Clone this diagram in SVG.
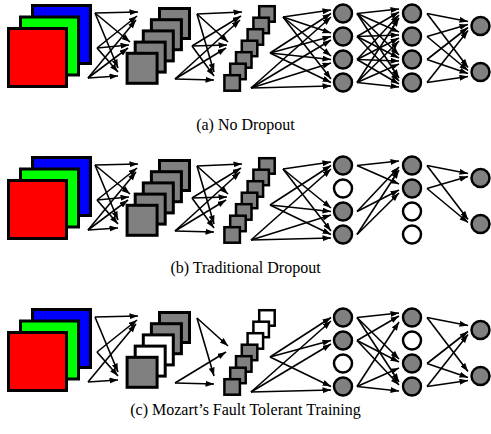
<svg xmlns="http://www.w3.org/2000/svg" width="491" height="434" viewBox="0 0 491 434">
<style>
.c line{stroke:#000;stroke-width:1.6;marker-end:url(#ah)}
.sq{stroke:#000;stroke-width:3}
.sm{stroke:#000;stroke-width:2.5}
.n{stroke:#000;stroke-width:2.5}
.g{fill:#808080}
.w{fill:#fff}
.cap{font-family:"Liberation Serif","Times New Roman",serif;font-size:16px;text-anchor:middle;fill:#000}
</style>
<defs>
<marker id="ah" markerUnits="userSpaceOnUse" markerWidth="9" markerHeight="7" refX="8.5" refY="3" orient="auto">
<path d="M0,0 L8.5,3 L0,6 z" fill="#000"/>
</marker>
</defs>
<rect width="491" height="434" fill="#fff"/>

<!-- Panel (a) -->
<g id="panel-a">
<g id="a-connectors" class="c">
<line x1="95" y1="13" x2="138" y2="12"/><line x1="95" y1="13" x2="130" y2="42"/><line x1="95" y1="13" x2="118" y2="68"/>
<line x1="97" y1="48" x2="137" y2="16"/><line x1="97" y1="48" x2="129" y2="45"/><line x1="97" y1="48" x2="118" y2="72"/>
<line x1="88" y1="78" x2="136" y2="20"/><line x1="88" y1="78" x2="128" y2="48"/><line x1="88" y1="78" x2="118" y2="76"/>
<line x1="197" y1="14" x2="242" y2="12"/><line x1="197" y1="14" x2="228" y2="42"/><line x1="197" y1="14" x2="214" y2="72"/>
<line x1="192" y1="46" x2="241" y2="16"/><line x1="192" y1="46" x2="227" y2="45"/><line x1="192" y1="46" x2="214" y2="76"/>
<line x1="175" y1="79" x2="240" y2="20"/><line x1="175" y1="79" x2="226" y2="48"/><line x1="175" y1="79" x2="214" y2="80"/>
<line x1="283" y1="17" x2="331" y2="10"/><line x1="283" y1="17" x2="331" y2="33"/><line x1="283" y1="17" x2="331" y2="56"/><line x1="283" y1="17" x2="331" y2="79"/>
<line x1="270" y1="53" x2="331" y2="13.5"/><line x1="270" y1="53" x2="331" y2="36.5"/><line x1="270" y1="53" x2="331" y2="59.5"/><line x1="270" y1="53" x2="331" y2="82.5"/>
<line x1="251" y1="88" x2="331" y2="17"/><line x1="251" y1="88" x2="331" y2="40"/><line x1="251" y1="88" x2="331" y2="63"/><line x1="251" y1="88" x2="331" y2="86"/>
<line x1="357" y1="13.5" x2="399" y2="9"/><line x1="357" y1="13.5" x2="399" y2="32"/><line x1="357" y1="13.5" x2="399" y2="55"/><line x1="357" y1="13.5" x2="399" y2="78"/>
<line x1="357" y1="36.5" x2="399" y2="12"/><line x1="357" y1="36.5" x2="399" y2="35"/><line x1="357" y1="36.5" x2="399" y2="58"/><line x1="357" y1="36.5" x2="399" y2="81"/>
<line x1="357" y1="59.5" x2="399" y2="15"/><line x1="357" y1="59.5" x2="399" y2="38"/><line x1="357" y1="59.5" x2="399" y2="61"/><line x1="357" y1="59.5" x2="399" y2="84"/>
<line x1="357" y1="82.5" x2="399" y2="18"/><line x1="357" y1="82.5" x2="399" y2="41"/><line x1="357" y1="82.5" x2="399" y2="64"/><line x1="357" y1="82.5" x2="399" y2="87"/>
<line x1="427" y1="13.5" x2="468" y2="21.5"/><line x1="427" y1="13.5" x2="468" y2="67.5"/>
<line x1="427" y1="36.5" x2="468" y2="24.5"/><line x1="427" y1="36.5" x2="468" y2="70.5"/>
<line x1="427" y1="59.5" x2="468" y2="27.5"/><line x1="427" y1="59.5" x2="468" y2="73.5"/>
<line x1="427" y1="82.5" x2="468" y2="30.5"/><line x1="427" y1="82.5" x2="468" y2="76.5"/>
</g>
<g id="a-input"><rect class="sq" x="32.5" y="5.5" width="58" height="58" fill="#0000ff"/><rect class="sq" x="20.5" y="17" width="58" height="58" fill="#00ff00"/><rect class="sq" x="8.5" y="28.5" width="58" height="58" fill="#ff0000"/></g>
<g id="a-conv1"><rect class="sq g" x="159.5" y="8.5" width="30" height="30"/><rect class="sq g" x="151.4" y="19.7" width="30" height="30"/><rect class="sq g" x="143.3" y="30.9" width="30" height="30"/><rect class="sq g" x="135.2" y="42.1" width="30" height="30"/><rect class="sq g" x="127.1" y="53.3" width="30" height="30"/></g>
<g id="a-conv2"><rect class="sm g" x="259.2" y="6.2" width="15.5" height="15.5"/><rect class="sm g" x="253.4" y="17.7" width="15.5" height="15.5"/><rect class="sm g" x="247.6" y="29.2" width="15.5" height="15.5"/><rect class="sm g" x="241.8" y="40.7" width="15.5" height="15.5"/><rect class="sm g" x="236" y="52.2" width="15.5" height="15.5"/><rect class="sm g" x="230.2" y="63.7" width="15.5" height="15.5"/><rect class="sm g" x="224.4" y="75.2" width="15.5" height="15.5"/></g>
<g id="a-fc1"><circle class="n g" cx="343" cy="13.5" r="9"/><circle class="n g" cx="343" cy="36.5" r="9"/><circle class="n g" cx="343" cy="59.5" r="9"/><circle class="n g" cx="343" cy="82.5" r="9"/></g>
<g id="a-fc2"><circle class="n g" cx="412" cy="13.5" r="9"/><circle class="n g" cx="412" cy="36.5" r="9"/><circle class="n g" cx="412" cy="59.5" r="9"/><circle class="n g" cx="412" cy="82.5" r="9"/></g>
<g id="a-output"><circle class="n g" cx="480.5" cy="26" r="9"/><circle class="n g" cx="480.5" cy="72" r="9"/></g>
<text id="a-caption" class="cap" x="245.5" y="130">(a) No Dropout</text>
</g>

<!-- Panel (b) -->
<g id="panel-b" transform="translate(0,152)">
<g id="b-connectors" class="c">
<line x1="95" y1="13" x2="138" y2="12"/><line x1="95" y1="13" x2="130" y2="42"/><line x1="95" y1="13" x2="118" y2="68"/>
<line x1="97" y1="48" x2="137" y2="16"/><line x1="97" y1="48" x2="129" y2="45"/><line x1="97" y1="48" x2="118" y2="72"/>
<line x1="88" y1="78" x2="136" y2="20"/><line x1="88" y1="78" x2="128" y2="48"/><line x1="88" y1="78" x2="118" y2="76"/>
<line x1="197" y1="14" x2="242" y2="12"/><line x1="197" y1="14" x2="228" y2="42"/><line x1="197" y1="14" x2="214" y2="72"/>
<line x1="192" y1="46" x2="241" y2="16"/><line x1="192" y1="46" x2="227" y2="45"/><line x1="192" y1="46" x2="214" y2="76"/>
<line x1="175" y1="79" x2="240" y2="20"/><line x1="175" y1="79" x2="226" y2="48"/><line x1="175" y1="79" x2="214" y2="80"/>
<line x1="283" y1="17" x2="331" y2="10"/><line x1="283" y1="17" x2="331" y2="56"/><line x1="283" y1="17" x2="331" y2="79"/>
<line x1="270" y1="53" x2="331" y2="13.5"/><line x1="270" y1="53" x2="331" y2="59.5"/><line x1="270" y1="53" x2="331" y2="82.5"/>
<line x1="251" y1="88" x2="331" y2="17"/><line x1="251" y1="88" x2="331" y2="63"/><line x1="251" y1="88" x2="331" y2="86"/>
<line x1="357" y1="13.5" x2="399" y2="9"/><line x1="357" y1="13.5" x2="399" y2="32"/>
<line x1="357" y1="59.5" x2="399" y2="15"/><line x1="357" y1="59.5" x2="399" y2="38"/>
<line x1="357" y1="82.5" x2="399" y2="18"/><line x1="357" y1="82.5" x2="399" y2="41"/>
<line x1="427" y1="13.5" x2="468" y2="21.5"/><line x1="427" y1="13.5" x2="468" y2="67.5"/>
<line x1="427" y1="36.5" x2="468" y2="24.5"/><line x1="427" y1="36.5" x2="468" y2="70.5"/>
</g>
<g id="b-input"><rect class="sq" x="32.5" y="5.5" width="58" height="58" fill="#0000ff"/><rect class="sq" x="20.5" y="17" width="58" height="58" fill="#00ff00"/><rect class="sq" x="8.5" y="28.5" width="58" height="58" fill="#ff0000"/></g>
<g id="b-conv1"><rect class="sq g" x="159.5" y="8.5" width="30" height="30"/><rect class="sq g" x="151.4" y="19.7" width="30" height="30"/><rect class="sq g" x="143.3" y="30.9" width="30" height="30"/><rect class="sq g" x="135.2" y="42.1" width="30" height="30"/><rect class="sq g" x="127.1" y="53.3" width="30" height="30"/></g>
<g id="b-conv2"><rect class="sm g" x="259.2" y="6.2" width="15.5" height="15.5"/><rect class="sm g" x="253.4" y="17.7" width="15.5" height="15.5"/><rect class="sm g" x="247.6" y="29.2" width="15.5" height="15.5"/><rect class="sm g" x="241.8" y="40.7" width="15.5" height="15.5"/><rect class="sm g" x="236" y="52.2" width="15.5" height="15.5"/><rect class="sm g" x="230.2" y="63.7" width="15.5" height="15.5"/><rect class="sm g" x="224.4" y="75.2" width="15.5" height="15.5"/></g>
<g id="b-fc1"><circle class="n g" cx="343" cy="13.5" r="9"/><circle class="n w" cx="343" cy="36.5" r="9"/><circle class="n g" cx="343" cy="59.5" r="9"/><circle class="n g" cx="343" cy="82.5" r="9"/></g>
<g id="b-fc2"><circle class="n g" cx="412" cy="13.5" r="9"/><circle class="n g" cx="412" cy="36.5" r="9"/><circle class="n w" cx="412" cy="59.5" r="9"/><circle class="n w" cx="412" cy="82.5" r="9"/></g>
<g id="b-output"><circle class="n g" cx="480.5" cy="26" r="9"/><circle class="n g" cx="480.5" cy="72" r="9"/></g>
</g>
<text id="b-caption" class="cap" x="245.5" y="273">(b) Traditional Dropout</text>

<!-- Panel (c) -->
<g id="panel-c" transform="translate(0,304)">
<g id="c-connectors" class="c">
<line x1="95" y1="13" x2="138" y2="12"/><line x1="95" y1="13" x2="118" y2="68"/>
<line x1="97" y1="48" x2="137" y2="16"/><line x1="97" y1="48" x2="118" y2="72"/>
<line x1="88" y1="78" x2="136" y2="20"/><line x1="88" y1="78" x2="118" y2="76"/>
<line x1="197" y1="14" x2="228" y2="42"/><line x1="197" y1="14" x2="214" y2="72"/>
<line x1="175" y1="79" x2="226" y2="48"/><line x1="175" y1="79" x2="214" y2="80"/>
<line x1="270" y1="53" x2="331" y2="13.5"/><line x1="270" y1="53" x2="331" y2="36.5"/><line x1="270" y1="53" x2="331" y2="82.5"/>
<line x1="251" y1="88" x2="331" y2="17"/><line x1="251" y1="88" x2="331" y2="40"/><line x1="251" y1="88" x2="331" y2="86"/>
<line x1="357" y1="13.5" x2="399" y2="9"/><line x1="357" y1="13.5" x2="399" y2="55"/><line x1="357" y1="13.5" x2="399" y2="78"/>
<line x1="357" y1="36.5" x2="399" y2="12"/><line x1="357" y1="36.5" x2="399" y2="58"/><line x1="357" y1="36.5" x2="399" y2="81"/>
<line x1="357" y1="82.5" x2="399" y2="18"/><line x1="357" y1="82.5" x2="399" y2="64"/><line x1="357" y1="82.5" x2="399" y2="87"/>
<line x1="427" y1="13.5" x2="468" y2="21.5"/><line x1="427" y1="13.5" x2="468" y2="67.5"/>
<line x1="427" y1="59.5" x2="468" y2="27.5"/><line x1="427" y1="59.5" x2="468" y2="73.5"/>
<line x1="427" y1="82.5" x2="468" y2="30.5"/><line x1="427" y1="82.5" x2="468" y2="76.5"/>
</g>
<g id="c-input"><rect class="sq" x="32.5" y="5.5" width="58" height="58" fill="#0000ff"/><rect class="sq" x="20.5" y="17" width="58" height="58" fill="#00ff00"/><rect class="sq" x="8.5" y="28.5" width="58" height="58" fill="#ff0000"/></g>
<g id="c-conv1"><rect class="sq g" x="159.5" y="8.5" width="30" height="30"/><rect class="sq g" x="151.4" y="19.7" width="30" height="30"/><rect class="sq w" x="143.3" y="30.9" width="30" height="30"/><rect class="sq w" x="135.2" y="42.1" width="30" height="30"/><rect class="sq g" x="127.1" y="53.3" width="30" height="30"/></g>
<g id="c-conv2"><rect class="sm w" x="259.2" y="6.2" width="15.5" height="15.5"/><rect class="sm w" x="253.4" y="17.7" width="15.5" height="15.5"/><rect class="sm w" x="247.6" y="29.2" width="15.5" height="15.5"/><rect class="sm g" x="241.8" y="40.7" width="15.5" height="15.5"/><rect class="sm g" x="236" y="52.2" width="15.5" height="15.5"/><rect class="sm g" x="230.2" y="63.7" width="15.5" height="15.5"/><rect class="sm g" x="224.4" y="75.2" width="15.5" height="15.5"/></g>
<g id="c-fc1"><circle class="n g" cx="343" cy="13.5" r="9"/><circle class="n g" cx="343" cy="36.5" r="9"/><circle class="n w" cx="343" cy="59.5" r="9"/><circle class="n g" cx="343" cy="82.5" r="9"/></g>
<g id="c-fc2"><circle class="n g" cx="412" cy="13.5" r="9"/><circle class="n w" cx="412" cy="36.5" r="9"/><circle class="n g" cx="412" cy="59.5" r="9"/><circle class="n g" cx="412" cy="82.5" r="9"/></g>
<g id="c-output"><circle class="n g" cx="480.5" cy="26" r="9"/><circle class="n g" cx="480.5" cy="72" r="9"/></g>
</g>
<text id="c-caption" class="cap" x="245.5" y="415">(c) Mozart’s Fault Tolerant Training</text>
</svg>
